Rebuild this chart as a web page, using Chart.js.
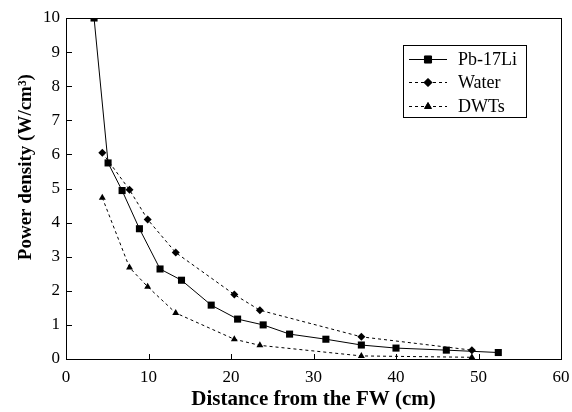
<!DOCTYPE html>
<html>
<head>
<meta charset="utf-8">
<script src="https://cdn.jsdelivr.net/npm/chart.js@4/dist/chart.umd.min.js"></script>
<style>
  html, body { margin: 0; padding: 0; background: #fff; }
  #wrap { width: 572px; height: 412px; }
</style>
</head>
<body>
<div id="wrap"><canvas id="chart" width="572" height="412"></canvas></div>
<script>
// values
const pbX = [3.4, 5.1, 6.8, 8.9, 11.4, 14.0, 17.6, 20.8, 23.9, 27.1, 31.5, 35.8, 40.0, 46.1, 52.4];
const pbY = [10.0, 5.75, 4.94, 3.82, 2.64, 2.31, 1.58, 1.17, 1.0, 0.73, 0.58, 0.41, 0.32, 0.26, 0.19];
const waterX = [4.4, 7.7, 9.9, 13.3, 20.4, 23.5, 35.8, 49.2];
const waterY = [6.05, 4.96, 4.09, 3.12, 1.89, 1.43, 0.65, 0.26];
const dwtX = [4.4, 7.7, 9.9, 13.3, 20.4, 23.5, 35.8, 49.2];
const dwtY = [4.73, 2.68, 2.12, 1.35, 0.58, 0.40, 0.09, 0.05];
const seriesNames = ['Pb-17Li', 'Water', 'DWTs'];
const xTicks = [0, 10, 20, 30, 40, 50, 60];
const yTicks = [0, 1, 2, 3, 4, 5, 6, 7, 8, 9, 10];

const serif = '"Liberation Serif", "Times New Roman", serif';

function pts(xs, ys) {
  return xs.map((x, i) => ({x: x, y: ys[i]}));
}

// frame, inward tick marks and the boxed legend
const framePlugin = {
  id: 'frame',
  afterDraw(chart) {
    const ctx = chart.ctx;
    const a = chart.chartArea;
    const xs = chart.scales.x, ys = chart.scales.y;
    ctx.save();
    ctx.strokeStyle = '#000';
    ctx.lineWidth = 1;
    ctx.strokeRect(a.left + 0.5, a.top + 0.5, a.right - a.left, a.bottom - a.top);
    ctx.beginPath();
    xTicks.forEach(v => {
      const px = Math.round(xs.getPixelForValue(v)) + 0.5;
      ctx.moveTo(px, a.bottom);
      ctx.lineTo(px, a.bottom - 5);
    });
    yTicks.forEach(v => {
      const py = Math.round(ys.getPixelForValue(v)) + 0.5;
      ctx.moveTo(a.left, py);
      ctx.lineTo(a.left + 6, py);
    });
    ctx.stroke();

    // legend
    const bx = 403, by = 45, bw = 123, bh = 72;
    ctx.fillStyle = '#fff';
    ctx.fillRect(bx, by, bw, bh);
    ctx.strokeRect(bx + 0.5, by + 0.5, bw, bh);
    const rowY = [59, 82, 106];
    chart.data.datasets.forEach((ds, i) => {
      const y = rowY[i] + 0.5;
      ctx.beginPath();
      ctx.setLineDash(ds.borderDash || []);
      ctx.moveTo(409, y);
      ctx.lineTo(447, y);
      ctx.stroke();
      ctx.setLineDash([]);
      Chart.helpers.drawPoint(ctx, {
        pointStyle: ds.pointStyle,
        radius: ds.pointRadius,
        borderWidth: 1
      }, 428, y);
      ctx.fillStyle = '#000';
      ctx.fill();
      ctx.font = '18px ' + serif;
      ctx.textBaseline = 'middle';
      ctx.fillText(ds.label, 458, y + 1);
    });
    ctx.restore();
  }
};

new Chart(document.getElementById('chart'), {
  type: 'scatter',
  data: {
    datasets: [
      {
        label: seriesNames[0],
        data: pts(pbX, pbY),
        showLine: true,
        borderColor: '#000',
        backgroundColor: '#000',
        borderWidth: 1,
        pointStyle: 'rect',
        pointRadius: 5,
        pointBorderWidth: 0
      },
      {
        label: seriesNames[1],
        data: pts(waterX, waterY),
        showLine: true,
        borderColor: '#000',
        backgroundColor: '#000',
        borderWidth: 1,
        borderDash: [3, 3],
        pointStyle: 'rectRot',
        pointRadius: 4,
        pointBorderWidth: 0
      },
      {
        label: seriesNames[2],
        data: pts(dwtX, dwtY),
        showLine: true,
        borderColor: '#000',
        backgroundColor: '#000',
        borderWidth: 1,
        borderDash: [3, 3],
        pointStyle: 'triangle',
        pointRadius: 4,
        pointBorderWidth: 0
      }
    ]
  },
  options: {
    responsive: false,
    animation: false,
    layout: { padding: { top: 18, right: 11, left: 0, bottom: 0 } },
    plugins: {
      legend: { display: false },
      tooltip: { enabled: false }
    },
    scales: {
      x: {
        type: 'linear',
        min: 0,
        max: 60,
        afterBuildTicks: s => { s.ticks = xTicks.map(v => ({value: v})); },
        afterFit: s => { s.height = 53; s.paddingLeft = 0; s.paddingRight = 0; },
        grid: { display: false, drawTicks: false },
        border: { color: '#000', width: 1 },
        ticks: { color: '#000', padding: 8, font: { family: serif, size: 17 } },
        title: {
          display: true,
          text: 'Distance from the FW (cm)',
          color: '#000',
          padding: { top: 0, bottom: 0 },
          font: { family: serif, size: 21, weight: 'bold' }
        }
      },
      y: {
        type: 'linear',
        min: 0,
        max: 10,
        afterBuildTicks: s => { s.ticks = yTicks.map(v => ({value: v})); },
        afterFit: s => { s.width = 66; s.paddingTop = 0; s.paddingBottom = 0; },
        grid: { display: false, drawTicks: false },
        border: { color: '#000', width: 1 },
        ticks: { color: '#000', padding: 6, font: { family: serif, size: 17 } },
        title: {
          display: true,
          text: '         Power density (W/cm³)',
          color: '#000',
          padding: { top: 15, bottom: 0 },
          font: { family: serif, size: 19, weight: 'bold' }
        }
      }
    }
  },
  plugins: [framePlugin]
});
</script>
</body>
</html>
